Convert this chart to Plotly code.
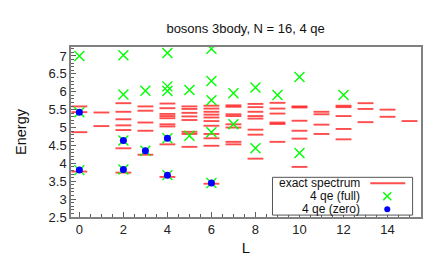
import plotly.graph_objects as go

# ---- data ----
exact_L = ([0]*4 + [1]*2 + [2]*7 + [3]*5 + [4]*9 + [5]*8 + [6]*11 + [7]*8 +
           [8]*8 + [9]*6 + [10]*6 + [11]*4 + [12]*5 + [13]*3 + [14]*2 + [15]*1)
exact_E = [5.59, 5.43, 4.87, 3.77,
           5.42, 5.04,
           5.68, 5.44, 5.23, 5.06, 4.93, 4.42, 3.74,
           5.59, 5.47, 5.14, 4.91, 4.24,
           5.67, 5.54, 5.38, 5.32, 5.26, 5.09, 5.03, 4.53, 3.62,
           5.59, 5.52, 5.41, 5.31, 5.21, 4.88, 4.82, 4.46,
           5.61, 5.53, 5.44, 5.36, 5.28, 5.18, 5.05, 4.82, 4.70, 4.49, 3.43,
           5.62, 5.58, 5.37, 5.32, 5.09, 5.00, 4.60, 4.53,
           5.66, 5.57, 5.44, 5.32, 5.25, 4.94, 4.80, 4.13,
           5.69, 5.53, 5.39, 5.14, 5.10, 4.60,
           5.59, 5.56, 5.19, 4.91, 4.69, 3.90,
           5.44, 5.37, 5.08, 4.82,
           5.61, 5.57, 5.32, 4.96, 4.67,
           5.68, 5.52, 5.15,
           5.50, 5.30,
           5.18]

full_L = [0, 0, 0, 2, 2, 2, 2, 3, 3, 4, 4, 4, 4, 4, 5, 5,
          6, 6, 6, 6, 6, 7, 7, 8, 8, 9, 10, 10, 12]
full_E = [7.00, 5.43, 3.81, 7.02, 5.92, 4.64, 3.83, 6.03, 4.35,
          7.08, 6.15, 6.02, 4.70, 3.67, 6.05, 4.77,
          7.20, 6.30, 5.76, 4.87, 3.45, 5.96, 5.09, 6.12, 4.42,
          5.91, 6.41, 4.29, 5.91]

zero_L = [0, 0, 2, 2, 3, 4, 4, 6]
zero_E = [5.43, 3.81, 4.64, 3.83, 4.35, 4.70, 3.67, 3.45]

x_ticks = [0, 2, 4, 6, 8, 10, 12, 14]
x_ticktext = ["0", "2", "4", "6", "8", "10", "12", "14"]
y_ticks = [2.5, 3, 3.5, 4, 4.5, 5, 5.5, 6, 6.5, 7]
y_ticktext = ["2.5", "3", "3.5", "4", "4.5", "5", "5.5", "6", "6.5", "7"]

title_text = "bosons 3body, N = 16, 4 qe"
legend_names = ["exact spectrum", "4 qe (full)", "4 qe (zero)"]

# ---- build ----
half = 0.36
seg_x, seg_y = [], []
for L, E in zip(exact_L, exact_E):
    seg_x += [L - half, L + half, None]
    seg_y += [E, E, None]

RED = "rgba(255,0,0,0.7)"
GREEN = "#00ff00"
BLUE = "#0000ff"
FONT = "Liberation Sans, Arial, sans-serif"

fig = go.Figure()
fig.add_trace(go.Scatter(x=seg_x, y=seg_y, mode="lines",
                         line=dict(color=RED, width=1.9),
                         name=legend_names[0], showlegend=False))
fig.add_trace(go.Scatter(x=full_L, y=full_E, mode="markers",
                         marker=dict(symbol="x-thin", size=10,
                                     line=dict(color=GREEN, width=1.4)),
                         name=legend_names[1], showlegend=False))
fig.add_trace(go.Scatter(x=zero_L, y=zero_E, mode="markers",
                         marker=dict(symbol="circle", size=7, color=BLUE),
                         name=legend_names[2], showlegend=False))

axis_common = dict(showgrid=False, zeroline=False, showline=True,
                   linecolor="#808080", linewidth=1.5, mirror=True,
                   ticks="inside", tickcolor="#606060", ticklen=5,
                   tickfont=dict(family=FONT, size=13, color="#222"))
fig.update_xaxes(range=[-0.38, 15.52], tickvals=x_ticks, ticktext=x_ticktext,
                 minor=dict(dtick=0.5, tick0=0, ticks="inside", ticklen=3,
                            tickcolor="#606060"),
                 title=dict(text="L", font=dict(family=FONT, size=15, color="#111"),
                            standoff=6),
                 **axis_common)
fig.update_yaxes(range=[2.5, 7.25], tickvals=y_ticks, ticktext=y_ticktext,
                 minor=dict(dtick=0.1, tick0=2.5, ticks="inside", ticklen=3,
                            tickcolor="#606060"),
                 title=dict(text="Energy", font=dict(family=FONT, size=14.5, color="#111"),
                            standoff=18),
                 **axis_common)

# legend drawn in gnuplot style (text right-aligned, sample on the right)
shapes = [dict(type="rect", xref="paper", yref="paper",
               x0=0.5757, x1=0.976, y0=0.0113, y1=0.2334,
               line=dict(color="#555", width=1), fillcolor="white", layer="above")]
rows_y = [0.1983, 0.1218, 0.0453]
annotations = []
for name, ry in zip(legend_names, rows_y):
    annotations.append(dict(xref="paper", yref="paper", x=0.829, y=ry,
                            xanchor="right", yanchor="middle", showarrow=False,
                            borderpad=0,
                            text=name, font=dict(family=FONT, size=12, color="#111")))
sx = 0.9036
shapes.append(dict(type="line", xref="paper", yref="paper",
                   x0=0.855, x1=0.955, y0=rows_y[0], y1=rows_y[0],
                   line=dict(color=RED, width=1.9), layer="above"))
for dx in (1, -1):
    shapes.append(dict(type="line", xref="paper", yref="paper",
                       xsizemode="pixel", ysizemode="pixel",
                       xanchor=sx, yanchor=rows_y[1],
                       x0=-4, x1=4, y0=-4 * dx, y1=4 * dx,
                       line=dict(color=GREEN, width=1.4), layer="above"))
shapes.append(dict(type="circle", xref="paper", yref="paper",
                   xsizemode="pixel", ysizemode="pixel",
                   xanchor=sx, yanchor=rows_y[2],
                   x0=-3, x1=3, y0=-3, y1=3,
                   fillcolor=BLUE, line=dict(color=BLUE, width=0), layer="above"))

fig.update_layout(width=436, height=258,
                  margin=dict(l=63, r=23, t=39, b=43),
                  paper_bgcolor="white", plot_bgcolor="white",
                  title=dict(text=title_text, x=0.545, xanchor="center",
                             y=0.92, yanchor="middle",
                             font=dict(family=FONT, size=13, color="#111")),
                  shapes=shapes, annotations=annotations,
                  showlegend=False)

fig.write_html("out.html")
